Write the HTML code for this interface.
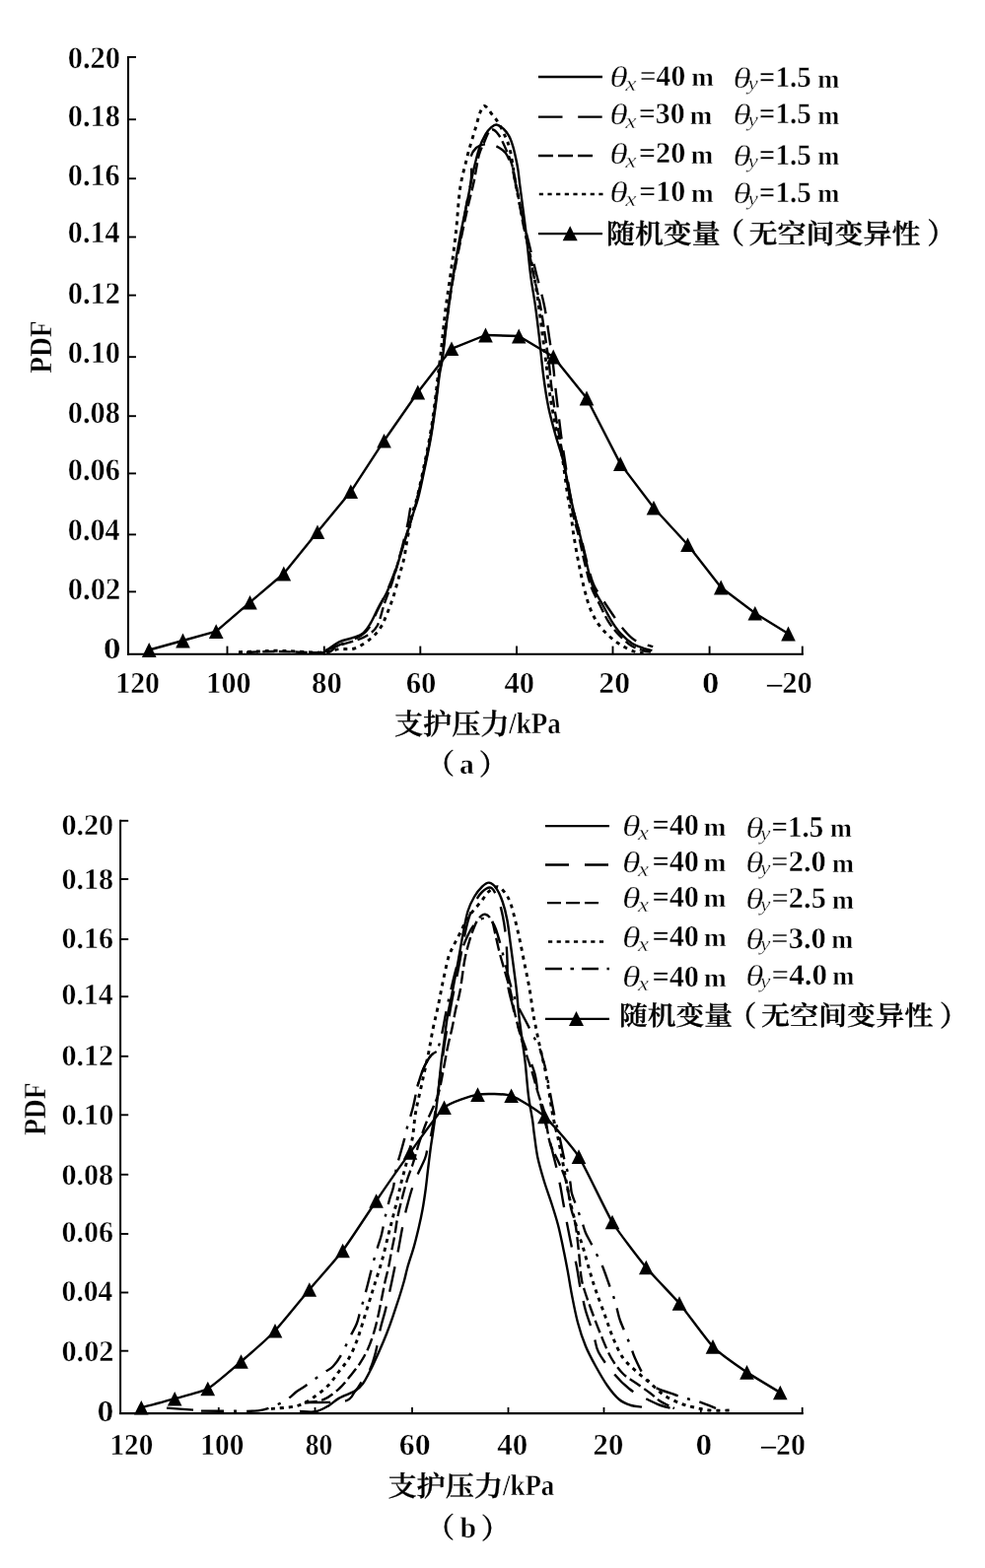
<!DOCTYPE html>
<html lang="zh"><head><meta charset="utf-8"><title>PDF of support pressure</title>
<style>
html,body{margin:0;padding:0;background:#fff;}
body{width:999px;height:1591px;overflow:hidden;}
svg{display:block;font-family:'Liberation Serif', 'Noto Serif CJK SC', serif;}
svg text{fill:#000;stroke:#fff;stroke-width:0.42px;text-rendering:geometricPrecision;}
svg text.cj{stroke:#000;stroke-width:0.32px;}
svg text.it{stroke:#fff;stroke-width:0.35px;}
</style></head><body>
<svg width="999" height="1591" viewBox="0 0 999 1591">
<rect width="999" height="1591" fill="#fff"/>
<line x1="130.0" y1="56.9" x2="130.0" y2="664.8" stroke="#000" stroke-width="2.1"/>
<line x1="129.0" y1="663.8" x2="814.8" y2="663.8" stroke="#000" stroke-width="2.1"/>
<line x1="130" y1="57.9" x2="138.0" y2="57.9" stroke="#000" stroke-width="1.9"/>
<line x1="130" y1="121.2" x2="138.0" y2="121.2" stroke="#000" stroke-width="1.9"/>
<line x1="130" y1="181.2" x2="138.0" y2="181.2" stroke="#000" stroke-width="1.9"/>
<line x1="130" y1="240.5" x2="138.0" y2="240.5" stroke="#000" stroke-width="1.9"/>
<line x1="130" y1="299.6" x2="138.0" y2="299.6" stroke="#000" stroke-width="1.9"/>
<line x1="130" y1="362.2" x2="138.0" y2="362.2" stroke="#000" stroke-width="1.9"/>
<line x1="130" y1="422.2" x2="138.0" y2="422.2" stroke="#000" stroke-width="1.9"/>
<line x1="130" y1="480.4" x2="138.0" y2="480.4" stroke="#000" stroke-width="1.9"/>
<line x1="130" y1="542.4" x2="138.0" y2="542.4" stroke="#000" stroke-width="1.9"/>
<line x1="130" y1="600.4" x2="138.0" y2="600.4" stroke="#000" stroke-width="1.9"/>
<line x1="230.5" y1="655.6" x2="230.5" y2="664.3" stroke="#000" stroke-width="1.9"/>
<line x1="328.8" y1="655.6" x2="328.8" y2="664.3" stroke="#000" stroke-width="1.9"/>
<line x1="426.3" y1="655.6" x2="426.3" y2="664.3" stroke="#000" stroke-width="1.9"/>
<line x1="524" y1="655.6" x2="524" y2="664.3" stroke="#000" stroke-width="1.9"/>
<line x1="621.5" y1="655.6" x2="621.5" y2="664.3" stroke="#000" stroke-width="1.9"/>
<line x1="719.6" y1="655.6" x2="719.6" y2="664.3" stroke="#000" stroke-width="1.9"/>
<line x1="813.8" y1="655.6" x2="813.8" y2="664.3" stroke="#000" stroke-width="1.9"/>
<text x="68.73" y="69.00" font-size="31.33" font-weight="bold" font-style="normal" textLength="53.41" lengthAdjust="spacingAndGlyphs">0.20</text>
<text x="68.77" y="128.00" font-size="31.32" font-weight="bold" font-style="normal" textLength="53.09" lengthAdjust="spacingAndGlyphs">0.18</text>
<text x="68.73" y="188.00" font-size="31.27" font-weight="bold" font-style="normal" textLength="53.06" lengthAdjust="spacingAndGlyphs">0.16</text>
<text x="68.86" y="246.00" font-size="31.34" font-weight="bold" font-style="normal" textLength="52.57" lengthAdjust="spacingAndGlyphs">0.14</text>
<text x="68.67" y="308.00" font-size="31.43" font-weight="bold" font-style="normal" textLength="53.43" lengthAdjust="spacingAndGlyphs">0.12</text>
<text x="68.79" y="368.00" font-size="31.21" font-weight="bold" font-style="normal" textLength="53.33" lengthAdjust="spacingAndGlyphs">0.10</text>
<text x="68.78" y="429.00" font-size="31.33" font-weight="bold" font-style="normal" textLength="53.09" lengthAdjust="spacingAndGlyphs">0.08</text>
<text x="68.80" y="487.00" font-size="31.39" font-weight="bold" font-style="normal" textLength="52.98" lengthAdjust="spacingAndGlyphs">0.06</text>
<text x="68.86" y="548.00" font-size="31.37" font-weight="bold" font-style="normal" textLength="52.57" lengthAdjust="spacingAndGlyphs">0.04</text>
<text x="68.74" y="608.00" font-size="31.36" font-weight="bold" font-style="normal" textLength="53.43" lengthAdjust="spacingAndGlyphs">0.02</text>
<text x="104.86" y="668.00" font-size="30.46" font-weight="bold" font-style="normal" textLength="17.89" lengthAdjust="spacingAndGlyphs">0</text>
<text x="117.26" y="703.00" font-size="30.42" font-weight="bold" font-style="normal" textLength="44.64" lengthAdjust="spacingAndGlyphs">120</text>
<text x="209.37" y="703.00" font-size="30.49" font-weight="bold" font-style="normal" textLength="45.08" lengthAdjust="spacingAndGlyphs">100</text>
<text x="316.13" y="703.00" font-size="30.59" font-weight="bold" font-style="normal" textLength="30.82" lengthAdjust="spacingAndGlyphs">80</text>
<text x="411.73" y="703.00" font-size="30.55" font-weight="bold" font-style="normal" textLength="30.76" lengthAdjust="spacingAndGlyphs">60</text>
<text x="511.42" y="703.00" font-size="30.58" font-weight="bold" font-style="normal" textLength="30.54" lengthAdjust="spacingAndGlyphs">40</text>
<text x="607.33" y="703.00" font-size="30.42" font-weight="bold" font-style="normal" textLength="31.68" lengthAdjust="spacingAndGlyphs">20</text>
<text x="711.96" y="703.00" font-size="30.61" font-weight="bold" font-style="normal" textLength="17.42" lengthAdjust="spacingAndGlyphs">0</text>
<text x="778.00" y="703.00" font-size="30.67" font-weight="bold" font-style="normal" textLength="45.82" lengthAdjust="spacingAndGlyphs">–20</text>
<text transform="translate(52.00,378.79) rotate(-90)" font-size="32.03" font-weight="bold" font-style="normal" textLength="53.36" lengthAdjust="spacingAndGlyphs">PDF</text>
<text class="cj" x="399.95" y="745.00" font-size="29.05" font-weight="600" font-style="normal" textLength="116.59" lengthAdjust="spacingAndGlyphs">支护压力</text>
<text x="516.23" y="744.00" font-size="30.44" font-weight="bold" font-style="normal" textLength="52.40" lengthAdjust="spacingAndGlyphs">/kPa</text>
<text class="cj" x="431.91" y="785.00" font-size="28.47" font-weight="600" font-style="normal" textLength="29.13" lengthAdjust="spacingAndGlyphs">（</text>
<text x="466.13" y="785.00" font-size="28.67" font-weight="bold" font-style="normal" textLength="14.82" lengthAdjust="spacingAndGlyphs">a</text>
<text class="cj" x="485.73" y="786.00" font-size="28.76" font-weight="600" font-style="normal" textLength="29.23" lengthAdjust="spacingAndGlyphs">）</text>
<line x1="546" y1="78" x2="611" y2="78" stroke="#000" stroke-width="2.3"/>
<line x1="546" y1="118.7" x2="611.3" y2="118.7" stroke="#000" stroke-width="2.3" stroke-dasharray="24.5 15.7"/>
<line x1="546" y1="158" x2="601" y2="158" stroke="#000" stroke-width="2.3" stroke-dasharray="15 5"/>
<line x1="546.8" y1="197" x2="611.5" y2="197" stroke="#000" stroke-width="2.3" stroke-dasharray="4.2 4.45"/>
<line x1="546" y1="237.2" x2="611" y2="237.2" stroke="#000" stroke-width="2.3"/>
<polygon points="578.2,229.3 585.7,244.3 570.7,244.3" fill="#000"/>
<text class="it" x="618.38" y="88.00" font-size="30.05" font-weight="normal" font-style="italic" textLength="18.63" lengthAdjust="spacingAndGlyphs">θ</text>
<text class="it" x="634.37" y="92.00" font-size="21.89" font-weight="normal" font-style="italic" textLength="11.26" lengthAdjust="spacingAndGlyphs">x</text>
<text x="648.69" y="87.00" font-size="30.07" font-weight="bold" font-style="normal" textLength="46.53" lengthAdjust="spacingAndGlyphs">=40</text>
<text x="701.31" y="87.00" font-size="26.63" font-weight="bold" font-style="normal" textLength="22.59" lengthAdjust="spacingAndGlyphs">m</text>
<text class="it" x="743.45" y="89.00" font-size="29.74" font-weight="normal" font-style="italic" textLength="18.34" lengthAdjust="spacingAndGlyphs">θ</text>
<text class="it" x="758.47" y="91.00" font-size="20.30" font-weight="normal" font-style="italic" textLength="10.39" lengthAdjust="spacingAndGlyphs">y</text>
<text x="769.85" y="88.00" font-size="29.79" font-weight="bold" font-style="normal" textLength="53.11" lengthAdjust="spacingAndGlyphs">=1.5</text>
<text x="829.30" y="89.00" font-size="26.66" font-weight="bold" font-style="normal" textLength="22.16" lengthAdjust="spacingAndGlyphs">m</text>
<text class="it" x="618.38" y="126.00" font-size="30.05" font-weight="normal" font-style="italic" textLength="18.63" lengthAdjust="spacingAndGlyphs">θ</text>
<text class="it" x="634.37" y="130.00" font-size="21.89" font-weight="normal" font-style="italic" textLength="11.26" lengthAdjust="spacingAndGlyphs">x</text>
<text x="647.75" y="125.00" font-size="29.98" font-weight="bold" font-style="normal" textLength="46.92" lengthAdjust="spacingAndGlyphs">=30</text>
<text x="699.75" y="126.00" font-size="26.75" font-weight="bold" font-style="normal" textLength="22.45" lengthAdjust="spacingAndGlyphs">m</text>
<text class="it" x="743.45" y="126.00" font-size="29.74" font-weight="normal" font-style="italic" textLength="18.34" lengthAdjust="spacingAndGlyphs">θ</text>
<text class="it" x="758.47" y="128.00" font-size="20.30" font-weight="normal" font-style="italic" textLength="10.39" lengthAdjust="spacingAndGlyphs">y</text>
<text x="769.85" y="125.00" font-size="29.79" font-weight="bold" font-style="normal" textLength="53.11" lengthAdjust="spacingAndGlyphs">=1.5</text>
<text x="829.30" y="126.00" font-size="26.66" font-weight="bold" font-style="normal" textLength="22.16" lengthAdjust="spacingAndGlyphs">m</text>
<text class="it" x="618.38" y="166.00" font-size="30.05" font-weight="normal" font-style="italic" textLength="18.63" lengthAdjust="spacingAndGlyphs">θ</text>
<text class="it" x="634.37" y="170.00" font-size="21.89" font-weight="normal" font-style="italic" textLength="11.26" lengthAdjust="spacingAndGlyphs">x</text>
<text x="647.70" y="165.00" font-size="29.97" font-weight="bold" font-style="normal" textLength="47.61" lengthAdjust="spacingAndGlyphs">=20</text>
<text x="700.75" y="166.00" font-size="26.75" font-weight="bold" font-style="normal" textLength="22.45" lengthAdjust="spacingAndGlyphs">m</text>
<text class="it" x="743.45" y="168.00" font-size="29.74" font-weight="normal" font-style="italic" textLength="18.34" lengthAdjust="spacingAndGlyphs">θ</text>
<text class="it" x="758.47" y="170.00" font-size="20.30" font-weight="normal" font-style="italic" textLength="10.39" lengthAdjust="spacingAndGlyphs">y</text>
<text x="769.85" y="167.00" font-size="29.79" font-weight="bold" font-style="normal" textLength="53.11" lengthAdjust="spacingAndGlyphs">=1.5</text>
<text x="829.30" y="167.00" font-size="26.66" font-weight="bold" font-style="normal" textLength="22.16" lengthAdjust="spacingAndGlyphs">m</text>
<text class="it" x="618.38" y="205.00" font-size="30.05" font-weight="normal" font-style="italic" textLength="18.63" lengthAdjust="spacingAndGlyphs">θ</text>
<text class="it" x="634.37" y="209.00" font-size="21.89" font-weight="normal" font-style="italic" textLength="11.26" lengthAdjust="spacingAndGlyphs">x</text>
<text x="648.23" y="204.00" font-size="30.00" font-weight="bold" font-style="normal" textLength="47.17" lengthAdjust="spacingAndGlyphs">=10</text>
<text x="701.00" y="205.00" font-size="26.63" font-weight="bold" font-style="normal" textLength="22.67" lengthAdjust="spacingAndGlyphs">m</text>
<text class="it" x="743.45" y="206.00" font-size="29.74" font-weight="normal" font-style="italic" textLength="18.34" lengthAdjust="spacingAndGlyphs">θ</text>
<text class="it" x="758.47" y="208.00" font-size="20.30" font-weight="normal" font-style="italic" textLength="10.39" lengthAdjust="spacingAndGlyphs">y</text>
<text x="769.85" y="205.00" font-size="29.79" font-weight="bold" font-style="normal" textLength="53.11" lengthAdjust="spacingAndGlyphs">=1.5</text>
<text x="829.30" y="205.00" font-size="26.66" font-weight="bold" font-style="normal" textLength="22.16" lengthAdjust="spacingAndGlyphs">m</text>
<text class="cj" x="615.02" y="247.00" font-size="27.55" font-weight="600" font-style="normal" textLength="115.60" lengthAdjust="spacingAndGlyphs">随机变量</text>
<text class="cj" x="724.41" y="247.00" font-size="29.13" font-weight="600" font-style="normal" textLength="30.77" lengthAdjust="spacingAndGlyphs">（</text>
<text class="cj" x="759.60" y="247.00" font-size="27.53" font-weight="600" font-style="normal" textLength="174.03" lengthAdjust="spacingAndGlyphs">无空间变异性</text>
<text class="cj" x="940.15" y="247.00" font-size="28.97" font-weight="600" font-style="normal" textLength="29.04" lengthAdjust="spacingAndGlyphs">）</text>
<line x1="122.1" y1="831.8" x2="122.1" y2="1435.1" stroke="#000" stroke-width="2.0"/>
<line x1="121.1" y1="1434.1" x2="814.7" y2="1434.1" stroke="#000" stroke-width="2.05"/>
<line x1="122" y1="832.8" x2="130.2" y2="832.8" stroke="#000" stroke-width="1.9"/>
<line x1="122" y1="892" x2="130.2" y2="892" stroke="#000" stroke-width="1.9"/>
<line x1="122" y1="953" x2="130.2" y2="953" stroke="#000" stroke-width="1.9"/>
<line x1="122" y1="1011.2" x2="130.2" y2="1011.2" stroke="#000" stroke-width="1.9"/>
<line x1="122" y1="1071.8" x2="130.2" y2="1071.8" stroke="#000" stroke-width="1.9"/>
<line x1="122" y1="1131.3" x2="130.2" y2="1131.3" stroke="#000" stroke-width="1.9"/>
<line x1="122" y1="1191.8" x2="130.2" y2="1191.8" stroke="#000" stroke-width="1.9"/>
<line x1="122" y1="1252" x2="130.2" y2="1252" stroke="#000" stroke-width="1.9"/>
<line x1="122" y1="1311.5" x2="130.2" y2="1311.5" stroke="#000" stroke-width="1.9"/>
<line x1="122" y1="1370.7" x2="130.2" y2="1370.7" stroke="#000" stroke-width="1.9"/>
<line x1="221.8" y1="1428" x2="221.8" y2="1434.5" stroke="#000" stroke-width="1.8"/>
<line x1="319.5" y1="1428" x2="319.5" y2="1434.5" stroke="#000" stroke-width="1.8"/>
<line x1="418" y1="1428" x2="418" y2="1434.5" stroke="#000" stroke-width="1.8"/>
<line x1="515.5" y1="1428" x2="515.5" y2="1434.5" stroke="#000" stroke-width="1.8"/>
<line x1="612.5" y1="1428" x2="612.5" y2="1434.5" stroke="#000" stroke-width="1.8"/>
<line x1="710.8" y1="1428" x2="710.8" y2="1434.5" stroke="#000" stroke-width="1.8"/>
<line x1="813.7" y1="1428" x2="813.7" y2="1434.5" stroke="#000" stroke-width="1.8"/>
<text x="62.38" y="847.00" font-size="30.19" font-weight="bold" font-style="normal" textLength="52.83" lengthAdjust="spacingAndGlyphs">0.20</text>
<text x="62.40" y="902.00" font-size="30.16" font-weight="bold" font-style="normal" textLength="52.72" lengthAdjust="spacingAndGlyphs">0.18</text>
<text x="62.43" y="962.00" font-size="30.14" font-weight="bold" font-style="normal" textLength="52.50" lengthAdjust="spacingAndGlyphs">0.16</text>
<text x="62.53" y="1019.00" font-size="30.27" font-weight="bold" font-style="normal" textLength="52.03" lengthAdjust="spacingAndGlyphs">0.14</text>
<text x="62.40" y="1081.00" font-size="30.17" font-weight="bold" font-style="normal" textLength="52.80" lengthAdjust="spacingAndGlyphs">0.12</text>
<text x="62.44" y="1141.00" font-size="30.19" font-weight="bold" font-style="normal" textLength="52.77" lengthAdjust="spacingAndGlyphs">0.10</text>
<text x="62.43" y="1202.00" font-size="30.19" font-weight="bold" font-style="normal" textLength="52.71" lengthAdjust="spacingAndGlyphs">0.08</text>
<text x="62.48" y="1260.00" font-size="30.14" font-weight="bold" font-style="normal" textLength="52.48" lengthAdjust="spacingAndGlyphs">0.06</text>
<text x="62.59" y="1320.00" font-size="30.12" font-weight="bold" font-style="normal" textLength="51.87" lengthAdjust="spacingAndGlyphs">0.04</text>
<text x="62.42" y="1381.00" font-size="30.11" font-weight="bold" font-style="normal" textLength="53.03" lengthAdjust="spacingAndGlyphs">0.02</text>
<text x="98.53" y="1442.00" font-size="30.61" font-weight="bold" font-style="normal" textLength="16.87" lengthAdjust="spacingAndGlyphs">0</text>
<text x="111.43" y="1476.00" font-size="30.40" font-weight="bold" font-style="normal" textLength="43.85" lengthAdjust="spacingAndGlyphs">120</text>
<text x="203.37" y="1476.00" font-size="30.44" font-weight="bold" font-style="normal" textLength="44.03" lengthAdjust="spacingAndGlyphs">100</text>
<text x="309.83" y="1476.00" font-size="30.41" font-weight="bold" font-style="normal" textLength="27.51" lengthAdjust="spacingAndGlyphs">80</text>
<text x="404.75" y="1476.00" font-size="30.35" font-weight="bold" font-style="normal" textLength="31.79" lengthAdjust="spacingAndGlyphs">60</text>
<text x="504.33" y="1476.00" font-size="30.56" font-weight="bold" font-style="normal" textLength="30.97" lengthAdjust="spacingAndGlyphs">40</text>
<text x="601.64" y="1476.00" font-size="30.36" font-weight="bold" font-style="normal" textLength="30.75" lengthAdjust="spacingAndGlyphs">20</text>
<text x="705.62" y="1476.00" font-size="30.60" font-weight="bold" font-style="normal" textLength="16.67" lengthAdjust="spacingAndGlyphs">0</text>
<text x="772.00" y="1476.00" font-size="30.41" font-weight="bold" font-style="normal" textLength="44.85" lengthAdjust="spacingAndGlyphs">–20</text>
<text transform="translate(46.00,1152.11) rotate(-90)" font-size="31.95" font-weight="bold" font-style="normal" textLength="53.59" lengthAdjust="spacingAndGlyphs">PDF</text>
<text class="cj" x="393.46" y="1518.00" font-size="28.48" font-weight="600" font-style="normal" textLength="116.60" lengthAdjust="spacingAndGlyphs">支护压力</text>
<text x="509.98" y="1517.00" font-size="30.11" font-weight="bold" font-style="normal" textLength="52.34" lengthAdjust="spacingAndGlyphs">/kPa</text>
<text class="cj" x="431.91" y="1560.00" font-size="28.47" font-weight="600" font-style="normal" textLength="29.13" lengthAdjust="spacingAndGlyphs">（</text>
<text x="466.41" y="1560.00" font-size="29.69" font-weight="bold" font-style="normal" textLength="16.64" lengthAdjust="spacingAndGlyphs">b</text>
<text class="cj" x="487.65" y="1561.00" font-size="28.56" font-weight="600" font-style="normal" textLength="29.47" lengthAdjust="spacingAndGlyphs">）</text>
<line x1="553" y1="838.2" x2="618" y2="838.2" stroke="#000" stroke-width="2.3"/>
<line x1="553" y1="877.5" x2="618" y2="877.5" stroke="#000" stroke-width="2.3" stroke-dasharray="24 16"/>
<line x1="555" y1="916.2" x2="607" y2="916.2" stroke="#000" stroke-width="2.3" stroke-dasharray="14 5"/>
<line x1="556" y1="955.5" x2="614" y2="955.5" stroke="#000" stroke-width="2.3" stroke-dasharray="4.2 4.45"/>
<line x1="553" y1="983" x2="618" y2="983" stroke="#000" stroke-width="2.3" stroke-dasharray="17 8.5 3.5 8"/>
<line x1="553" y1="1033.8" x2="618" y2="1033.8" stroke="#000" stroke-width="2.3"/>
<polygon points="584.5,1026.0 592.0,1041.0 577.0,1041.0" fill="#000"/>
<text class="it" x="631.00" y="848.00" font-size="29.96" font-weight="normal" font-style="italic" textLength="18.63" lengthAdjust="spacingAndGlyphs">θ</text>
<text class="it" x="647.04" y="852.00" font-size="21.90" font-weight="normal" font-style="italic" textLength="11.10" lengthAdjust="spacingAndGlyphs">x</text>
<text x="661.42" y="847.00" font-size="30.47" font-weight="bold" font-style="normal" textLength="47.61" lengthAdjust="spacingAndGlyphs">=40</text>
<text x="713.88" y="848.00" font-size="26.66" font-weight="bold" font-style="normal" textLength="22.66" lengthAdjust="spacingAndGlyphs">m</text>
<text class="it" x="756.15" y="850.00" font-size="29.85" font-weight="normal" font-style="italic" textLength="18.25" lengthAdjust="spacingAndGlyphs">θ</text>
<text class="it" x="770.92" y="852.00" font-size="20.28" font-weight="normal" font-style="italic" textLength="10.36" lengthAdjust="spacingAndGlyphs">y</text>
<text x="782.56" y="849.00" font-size="30.40" font-weight="bold" font-style="normal" textLength="52.79" lengthAdjust="spacingAndGlyphs">=1.5</text>
<text x="842.00" y="849.00" font-size="26.73" font-weight="bold" font-style="normal" textLength="21.92" lengthAdjust="spacingAndGlyphs">m</text>
<text class="it" x="631.00" y="885.00" font-size="29.96" font-weight="normal" font-style="italic" textLength="18.63" lengthAdjust="spacingAndGlyphs">θ</text>
<text class="it" x="647.04" y="889.00" font-size="21.90" font-weight="normal" font-style="italic" textLength="11.10" lengthAdjust="spacingAndGlyphs">x</text>
<text x="661.42" y="884.00" font-size="30.47" font-weight="bold" font-style="normal" textLength="47.61" lengthAdjust="spacingAndGlyphs">=40</text>
<text x="713.88" y="884.00" font-size="26.66" font-weight="bold" font-style="normal" textLength="22.66" lengthAdjust="spacingAndGlyphs">m</text>
<text class="it" x="756.15" y="885.00" font-size="29.85" font-weight="normal" font-style="italic" textLength="18.25" lengthAdjust="spacingAndGlyphs">θ</text>
<text class="it" x="770.92" y="887.00" font-size="20.28" font-weight="normal" font-style="italic" textLength="10.36" lengthAdjust="spacingAndGlyphs">y</text>
<text x="782.29" y="884.00" font-size="30.18" font-weight="bold" font-style="normal" textLength="55.58" lengthAdjust="spacingAndGlyphs">=2.0</text>
<text x="844.00" y="885.00" font-size="26.73" font-weight="bold" font-style="normal" textLength="21.92" lengthAdjust="spacingAndGlyphs">m</text>
<text class="it" x="631.00" y="921.00" font-size="29.96" font-weight="normal" font-style="italic" textLength="18.63" lengthAdjust="spacingAndGlyphs">θ</text>
<text class="it" x="647.04" y="925.00" font-size="21.90" font-weight="normal" font-style="italic" textLength="11.10" lengthAdjust="spacingAndGlyphs">x</text>
<text x="661.42" y="920.00" font-size="30.47" font-weight="bold" font-style="normal" textLength="47.61" lengthAdjust="spacingAndGlyphs">=40</text>
<text x="713.88" y="920.00" font-size="26.66" font-weight="bold" font-style="normal" textLength="22.66" lengthAdjust="spacingAndGlyphs">m</text>
<text class="it" x="756.15" y="922.00" font-size="29.85" font-weight="normal" font-style="italic" textLength="18.25" lengthAdjust="spacingAndGlyphs">θ</text>
<text class="it" x="770.92" y="924.00" font-size="20.28" font-weight="normal" font-style="italic" textLength="10.36" lengthAdjust="spacingAndGlyphs">y</text>
<text x="782.44" y="921.00" font-size="30.17" font-weight="bold" font-style="normal" textLength="55.45" lengthAdjust="spacingAndGlyphs">=2.5</text>
<text x="844.00" y="922.00" font-size="26.73" font-weight="bold" font-style="normal" textLength="21.92" lengthAdjust="spacingAndGlyphs">m</text>
<text class="it" x="631.00" y="961.00" font-size="29.96" font-weight="normal" font-style="italic" textLength="18.63" lengthAdjust="spacingAndGlyphs">θ</text>
<text class="it" x="647.04" y="965.00" font-size="21.90" font-weight="normal" font-style="italic" textLength="11.10" lengthAdjust="spacingAndGlyphs">x</text>
<text x="661.42" y="960.00" font-size="30.47" font-weight="bold" font-style="normal" textLength="47.61" lengthAdjust="spacingAndGlyphs">=40</text>
<text x="714.13" y="960.00" font-size="26.66" font-weight="bold" font-style="normal" textLength="22.71" lengthAdjust="spacingAndGlyphs">m</text>
<text class="it" x="756.15" y="963.00" font-size="29.85" font-weight="normal" font-style="italic" textLength="18.25" lengthAdjust="spacingAndGlyphs">θ</text>
<text class="it" x="770.92" y="964.00" font-size="20.28" font-weight="normal" font-style="italic" textLength="10.36" lengthAdjust="spacingAndGlyphs">y</text>
<text x="782.26" y="962.00" font-size="30.17" font-weight="bold" font-style="normal" textLength="55.68" lengthAdjust="spacingAndGlyphs">=3.0</text>
<text x="843.17" y="962.00" font-size="26.69" font-weight="bold" font-style="normal" textLength="22.00" lengthAdjust="spacingAndGlyphs">m</text>
<text class="it" x="631.00" y="1001.00" font-size="29.96" font-weight="normal" font-style="italic" textLength="18.63" lengthAdjust="spacingAndGlyphs">θ</text>
<text class="it" x="647.04" y="1005.00" font-size="21.90" font-weight="normal" font-style="italic" textLength="11.10" lengthAdjust="spacingAndGlyphs">x</text>
<text x="661.42" y="1001.00" font-size="30.47" font-weight="bold" font-style="normal" textLength="47.61" lengthAdjust="spacingAndGlyphs">=40</text>
<text x="714.13" y="1001.00" font-size="26.66" font-weight="bold" font-style="normal" textLength="22.71" lengthAdjust="spacingAndGlyphs">m</text>
<text class="it" x="756.15" y="1000.00" font-size="29.85" font-weight="normal" font-style="italic" textLength="18.25" lengthAdjust="spacingAndGlyphs">θ</text>
<text class="it" x="770.92" y="1002.00" font-size="20.28" font-weight="normal" font-style="italic" textLength="10.36" lengthAdjust="spacingAndGlyphs">y</text>
<text x="782.42" y="999.00" font-size="30.08" font-weight="bold" font-style="normal" textLength="56.68" lengthAdjust="spacingAndGlyphs">=4.0</text>
<text x="844.30" y="999.00" font-size="26.66" font-weight="bold" font-style="normal" textLength="22.16" lengthAdjust="spacingAndGlyphs">m</text>
<text class="cj" x="628.03" y="1040.00" font-size="26.85" font-weight="600" font-style="normal" textLength="115.02" lengthAdjust="spacingAndGlyphs">随机变量</text>
<text class="cj" x="737.74" y="1041.00" font-size="28.54" font-weight="600" font-style="normal" textLength="29.70" lengthAdjust="spacingAndGlyphs">（</text>
<text class="cj" x="771.93" y="1040.00" font-size="26.87" font-weight="600" font-style="normal" textLength="174.33" lengthAdjust="spacingAndGlyphs">无空间变异性</text>
<text class="cj" x="952.65" y="1041.00" font-size="28.56" font-weight="600" font-style="normal" textLength="29.47" lengthAdjust="spacingAndGlyphs">）</text>
<path d="M242.0,661.6 C245.3,661.5 255.7,661.2 262.0,661.0 C268.3,660.8 273.7,660.2 280.0,660.2 C286.3,660.2 292.0,660.7 300.0,661.0 C308.0,661.3 320.7,662.4 328.0,662.0 C335.3,661.6 338.7,659.3 344.0,658.6 C349.3,657.9 354.7,659.6 360.0,657.8 C365.3,656.0 371.7,651.5 376.0,648.0 C380.3,644.5 383.1,641.0 385.8,637.0 C388.5,633.0 389.9,629.1 392.0,624.0 C394.1,618.9 396.4,613.2 398.6,606.5 C400.8,599.8 403.1,590.7 405.0,584.0 C406.9,577.3 408.5,572.4 409.8,566.5 C411.1,560.6 411.4,556.2 412.8,548.8 C414.2,541.4 416.3,529.3 418.0,522.0 C419.7,514.7 421.1,512.7 423.0,505.0 C424.9,497.3 427.3,486.2 429.4,476.0 C431.5,465.8 433.9,454.7 435.8,444.0 C437.7,433.3 439.2,422.7 440.6,412.0 C442.0,401.3 443.4,388.2 444.4,380.0 C445.4,371.8 445.9,368.0 446.5,363.0 C447.1,358.0 447.1,358.3 448.0,350.0 C448.9,341.7 450.5,325.0 452.0,313.0 C453.5,301.0 455.2,291.0 457.0,278.0 C458.8,265.0 460.9,249.3 462.5,235.0 C464.1,220.7 464.8,204.0 466.5,192.0 C468.2,180.0 471.2,170.2 472.9,163.0 C474.6,155.8 475.1,154.3 476.6,149.0 C478.1,143.7 480.2,137.0 482.0,131.0 C483.8,125.0 485.7,116.9 487.4,113.0 C489.1,109.1 489.9,106.8 492.0,107.6 C494.1,108.3 497.8,114.7 500.0,117.5 C502.2,120.3 503.4,121.1 505.5,124.7 C507.6,128.3 510.8,134.6 512.7,139.0 C514.6,143.4 515.8,146.3 517.0,151.0 C518.2,155.7 519.1,161.3 520.0,167.0 C520.9,172.7 521.1,176.8 522.6,185.0 C524.1,193.2 527.1,206.8 529.0,216.0 C530.9,225.2 531.8,229.7 533.8,240.0 C535.8,250.3 539.2,266.3 541.3,278.0 C543.4,289.7 544.9,299.3 546.4,310.0 C547.9,320.7 549.3,332.7 550.5,342.0 C551.7,351.3 552.6,358.0 553.6,366.0 C554.6,374.0 555.3,382.3 556.3,390.0 C557.3,397.7 558.1,403.7 559.6,412.0 C561.1,420.3 563.3,431.7 565.0,440.0 C566.7,448.3 568.3,452.0 570.0,462.0 C571.7,472.0 573.8,490.3 575.3,500.0 C576.8,509.7 577.7,512.7 578.8,520.0 C579.9,527.3 580.6,535.5 582.0,544.0 C583.4,552.5 585.1,562.5 586.9,571.3 C588.6,580.1 590.6,589.5 592.5,597.0 C594.4,604.5 595.8,610.2 598.0,616.0 C600.2,621.8 602.8,627.2 606.0,632.0 C609.2,636.8 613.3,641.2 617.3,645.0 C621.3,648.8 625.7,651.9 630.0,654.6 C634.3,657.3 639.2,659.7 643.0,661.0 C646.8,662.3 651.0,662.3 652.6,662.6" fill="none" stroke="#000" stroke-width="2.9" stroke-linejoin="round" stroke-dasharray="4 4.9"/>
<path d="M250.0,662.0 C255.0,661.8 266.7,661.0 280.0,661.0 C293.3,661.0 319.8,662.8 330.0,662.0 C340.2,661.2 336.0,658.0 341.0,656.0 C346.0,654.0 354.8,651.8 360.0,650.0 C365.2,648.2 368.2,647.5 372.0,645.0 C375.8,642.5 379.6,640.5 382.6,635.0 C385.6,629.5 387.4,619.5 390.0,612.0 C392.6,604.5 395.3,598.2 398.0,590.0 C400.7,581.8 403.5,571.3 406.0,563.0 C408.5,554.7 410.9,546.8 413.0,540.0 C415.1,533.2 416.8,527.8 418.5,522.0 C420.2,516.2 421.6,512.7 423.5,505.0 C425.4,497.3 427.8,486.2 430.0,476.0 C432.2,465.8 434.6,454.7 436.5,444.0 C438.4,433.3 439.8,422.7 441.3,412.0 C442.8,401.3 444.1,388.2 445.3,380.0 C446.5,371.8 447.1,372.0 448.4,363.0 C449.7,354.0 451.2,338.8 453.0,326.0 C454.8,313.2 456.7,299.5 459.0,286.0 C461.3,272.5 464.4,257.7 467.0,245.0 C469.6,232.3 472.2,220.0 474.5,210.0 C476.8,200.0 478.6,193.7 480.5,185.0 C482.4,176.3 483.9,164.8 485.6,158.0 C487.4,151.2 489.4,148.4 491.0,144.5 C492.6,140.6 494.0,136.8 495.5,134.6 C497.0,132.4 498.3,131.2 500.0,131.5 C501.7,131.8 503.8,134.2 505.5,136.4 C507.2,138.6 508.6,141.7 510.0,144.5 C511.4,147.3 512.4,149.6 514.0,153.5 C515.6,157.4 517.8,161.9 519.5,168.0 C521.2,174.1 522.3,181.0 524.0,190.0 C525.7,199.0 527.8,212.8 529.5,222.0 C531.2,231.2 532.6,235.7 534.5,245.0 C536.4,254.3 538.8,267.2 541.0,278.0 C543.2,288.8 546.0,299.3 548.0,310.0 C550.0,320.7 551.6,332.7 553.0,342.0 C554.4,351.3 555.5,358.0 556.5,366.0 C557.5,374.0 558.1,382.3 559.0,390.0 C559.9,397.7 560.7,403.5 562.0,412.0 C563.3,420.5 565.3,431.7 567.0,441.0 C568.7,450.3 570.3,458.2 572.0,468.0 C573.7,477.8 575.2,490.1 577.0,500.0 C578.8,509.9 580.8,520.1 582.5,527.4 C584.2,534.7 585.2,536.7 587.0,544.0 C588.8,551.3 590.9,562.8 593.0,571.3 C595.1,579.8 597.0,588.3 599.5,595.3 C602.0,602.2 605.1,607.1 608.0,613.0 C610.9,618.9 613.8,625.5 617.0,630.6 C620.2,635.7 623.2,639.3 627.0,643.4 C630.8,647.5 635.8,652.2 640.0,655.0 C644.2,657.8 648.7,658.9 652.0,660.0 C655.3,661.1 658.7,661.2 660.0,661.5" fill="none" stroke="#000" stroke-width="2.4" stroke-linejoin="round" stroke-dasharray="12 4.5"/>
<path d="M330.0,660.0 C333.3,658.7 344.0,654.5 350.0,652.0 C356.0,649.5 361.8,647.7 366.0,645.0 C370.2,642.3 372.2,640.3 375.0,636.0 C377.8,631.7 380.3,624.5 383.0,619.0 C385.7,613.5 388.3,608.8 391.0,603.0 C393.7,597.2 396.5,590.8 399.0,584.0 C401.5,577.2 403.9,569.3 406.0,562.0 C408.1,554.7 410.2,545.5 411.5,540.0 C412.8,534.5 413.1,533.5 414.0,529.0 C414.9,524.5 415.5,517.0 417.0,513.0 C418.5,509.0 420.8,511.2 423.0,505.0 C425.2,498.8 427.8,486.2 430.0,476.0 C432.2,465.8 434.6,454.7 436.5,444.0 C438.4,433.3 439.8,422.7 441.3,412.0 C442.8,401.3 444.1,388.2 445.3,380.0 C446.5,371.8 447.1,372.0 448.4,363.0 C449.6,354.0 451.1,338.8 452.8,326.0 C454.5,313.2 456.1,300.3 458.5,286.0 C460.9,271.7 465.0,253.5 467.5,240.0 C470.0,226.5 471.9,214.2 473.6,205.0 C475.3,195.8 476.7,190.5 477.5,185.0 C478.3,179.5 478.2,176.2 478.2,172.0 C478.1,167.8 476.4,163.7 477.2,160.0 C478.0,156.3 480.5,152.3 483.0,150.0 C485.5,147.7 489.2,146.8 492.0,146.3 C494.8,145.8 496.8,145.9 499.6,146.8 C502.4,147.7 506.5,149.9 509.0,151.8 C511.5,153.7 512.6,154.1 514.5,158.0 C516.4,161.9 518.7,168.0 520.5,175.0 C522.3,182.0 523.8,191.7 525.5,200.0 C527.2,208.3 529.2,217.5 531.0,225.0 C532.8,232.5 533.8,236.2 536.0,245.0 C538.2,253.8 541.3,267.2 544.0,278.0 C546.7,288.8 549.8,299.3 552.0,310.0 C554.2,320.7 555.6,332.7 557.0,342.0 C558.4,351.3 559.5,358.0 560.5,366.0 C561.5,374.0 562.2,382.3 563.0,390.0 C563.8,397.7 564.5,403.5 565.5,412.0 C566.5,420.5 567.8,431.7 569.0,441.0 C570.2,450.3 571.5,458.2 573.0,468.0 C574.5,477.8 576.2,490.1 578.0,500.0 C579.8,509.9 582.2,520.1 584.0,527.4 C585.8,534.7 587.1,536.7 589.0,544.0 C590.9,551.3 593.3,563.1 595.5,571.3 C597.7,579.5 599.4,586.9 602.0,593.0 C604.6,599.1 607.8,603.0 611.0,608.0 C614.2,613.0 617.7,618.2 621.0,623.0 C624.3,627.8 627.2,632.6 631.0,637.0 C634.8,641.4 638.5,646.3 643.8,649.5 C649.0,652.7 659.1,655.1 662.2,656.2" fill="none" stroke="#000" stroke-width="2.4" stroke-linejoin="round" stroke-dasharray="20 12"/>
<path d="M328.0,662.3 C330.7,660.5 339.2,653.9 344.0,651.4 C348.8,648.9 353.0,648.9 357.0,647.4 C361.0,645.9 364.8,645.2 368.0,642.6 C371.2,640.0 373.3,636.4 376.0,632.0 C378.7,627.6 381.3,621.0 384.0,616.0 C386.7,611.0 389.3,607.3 392.0,601.7 C394.7,596.1 397.3,590.0 400.0,582.5 C402.7,575.0 405.6,564.6 408.0,556.9 C410.4,549.1 412.7,542.1 414.6,536.0 C416.5,529.9 417.8,525.2 419.4,520.0 C421.0,514.8 422.3,512.3 424.2,505.0 C426.1,497.7 428.5,486.2 430.6,476.0 C432.7,465.8 435.1,454.7 437.0,444.0 C438.9,433.3 440.3,422.7 441.8,412.0 C443.3,401.3 444.6,388.2 445.8,380.0 C447.0,371.8 447.7,372.0 448.9,363.0 C450.1,354.0 451.6,338.8 453.2,326.0 C454.8,313.2 456.4,300.3 458.6,286.0 C460.8,271.7 464.0,253.8 466.6,240.0 C469.2,226.2 471.9,214.2 474.2,203.0 C476.5,191.8 478.2,181.8 480.2,173.0 C482.2,164.2 484.0,156.6 486.0,150.5 C488.0,144.4 490.4,139.9 492.4,136.4 C494.4,132.9 496.1,131.1 498.0,129.4 C499.9,127.8 501.4,126.2 503.5,126.5 C505.6,126.8 508.8,129.1 510.9,131.0 C513.0,132.9 514.8,135.5 516.3,138.2 C517.8,140.9 518.8,144.0 519.9,147.3 C521.0,150.6 521.7,153.9 522.6,158.0 C523.5,162.1 524.5,166.4 525.3,171.6 C526.1,176.8 526.1,178.9 527.4,189.0 C528.7,199.1 531.2,217.2 533.0,232.0 C534.8,246.8 536.4,265.0 538.0,278.0 C539.6,291.0 541.4,299.3 542.9,310.0 C544.4,320.7 545.5,330.3 546.9,342.0 C548.2,353.7 549.5,368.3 551.0,380.0 C552.5,391.7 554.0,401.8 556.0,412.0 C558.0,422.2 560.8,431.7 563.3,441.0 C565.8,450.3 568.9,458.2 571.3,468.0 C573.7,477.8 575.6,490.1 577.7,500.0 C579.8,509.9 582.2,520.1 584.0,527.4 C585.8,534.7 586.7,536.7 588.5,544.0 C590.3,551.3 592.8,562.8 594.9,571.3 C597.0,579.8 598.6,588.3 601.3,595.3 C604.0,602.2 607.7,607.1 610.9,613.0 C614.1,618.9 617.3,625.5 620.5,630.6 C623.7,635.7 626.5,639.7 630.0,643.4 C633.5,647.1 637.5,650.6 641.3,653.0 C645.1,655.4 649.2,656.6 652.6,657.8 C656.0,659.0 659.9,659.6 661.4,660.0" fill="none" stroke="#000" stroke-width="2.4" stroke-linejoin="round"/>
<path d="M151.2,659.5 L185.5,650.0 L219.2,640.6 L253.5,611.2 L287.8,582.0 L322.0,539.8 L355.8,498.8 L389.5,447.2 L423.8,398.0 L458.0,353.8 L492.5,340.0 L526.2,341.0 L561.2,362.0 L595.0,404.0 L629.2,470.6 L663.0,515.2 L697.5,552.8 L731.2,596.0 L765.8,622.2 L799.5,643.0" fill="none" stroke="#000" stroke-width="2.4" stroke-linejoin="round"/>
<polygon points="151.2,652.1 158.6,666.9 143.9,666.9" fill="#000"/>
<polygon points="185.5,642.6 192.8,657.4 178.2,657.4" fill="#000"/>
<polygon points="219.2,633.2 226.6,648.0 211.9,648.0" fill="#000"/>
<polygon points="253.5,603.9 260.8,618.6 246.2,618.6" fill="#000"/>
<polygon points="287.8,574.6 295.1,589.4 280.4,589.4" fill="#000"/>
<polygon points="322.0,532.4 329.3,547.1 314.7,547.1" fill="#000"/>
<polygon points="355.8,491.4 363.1,506.1 348.4,506.1" fill="#000"/>
<polygon points="389.5,439.9 396.8,454.6 382.2,454.6" fill="#000"/>
<polygon points="423.8,390.6 431.1,405.4 416.4,405.4" fill="#000"/>
<polygon points="458.0,346.4 465.3,361.1 450.7,361.1" fill="#000"/>
<polygon points="492.5,332.6 499.8,347.4 485.2,347.4" fill="#000"/>
<polygon points="526.2,333.6 533.5,348.4 519.0,348.4" fill="#000"/>
<polygon points="561.2,354.6 568.5,369.4 554.0,369.4" fill="#000"/>
<polygon points="595.0,396.6 602.3,411.4 587.7,411.4" fill="#000"/>
<polygon points="629.2,463.2 636.5,478.0 622.0,478.0" fill="#000"/>
<polygon points="663.0,507.9 670.3,522.6 655.7,522.6" fill="#000"/>
<polygon points="697.5,545.4 704.8,560.1 690.2,560.1" fill="#000"/>
<polygon points="731.2,588.6 738.5,603.4 724.0,603.4" fill="#000"/>
<polygon points="765.8,614.9 773.0,629.6 758.5,629.6" fill="#000"/>
<polygon points="799.5,635.6 806.8,650.4 792.2,650.4" fill="#000"/>
<path d="M275.0,1429.5 C279.3,1429.0 293.8,1428.4 300.8,1426.6 C307.8,1424.8 311.5,1422.1 316.9,1418.6 C322.2,1415.1 328.4,1410.3 332.9,1405.8 C337.4,1401.2 340.5,1395.8 344.0,1391.3 C347.5,1386.8 350.8,1383.5 353.7,1378.5 C356.6,1373.5 359.3,1367.1 361.7,1361.0 C364.1,1354.9 365.9,1348.4 368.0,1341.7 C370.1,1335.0 372.5,1327.2 374.5,1320.8 C376.5,1314.3 377.8,1310.1 380.0,1303.0 C382.2,1295.9 385.4,1286.4 387.7,1278.0 C390.0,1269.6 392.1,1260.0 394.0,1252.5 C395.9,1245.0 397.4,1239.4 399.0,1233.0 C400.6,1226.6 402.4,1219.5 403.7,1214.0 C405.0,1208.5 405.7,1205.0 407.0,1199.7 C408.3,1194.4 409.9,1189.2 411.7,1182.0 C413.5,1174.8 416.3,1165.4 418.0,1156.4 C419.7,1147.4 420.0,1137.6 421.7,1128.0 C423.4,1118.4 425.9,1108.8 428.0,1099.0 C430.1,1089.2 432.6,1078.3 434.5,1069.0 C436.4,1059.7 437.7,1050.8 439.3,1043.0 C440.9,1035.2 442.4,1029.9 444.0,1022.4 C445.6,1014.9 447.1,1006.3 448.8,998.0 C450.6,989.7 452.8,978.7 454.5,972.5 C456.2,966.3 457.3,965.2 459.3,961.0 C461.3,956.8 464.0,952.0 466.5,947.0 C469.0,942.0 472.1,935.0 474.5,931.0 C476.9,927.0 478.6,926.0 481.0,923.0 C483.4,920.0 486.6,916.3 489.0,913.3 C491.4,910.3 493.2,907.1 495.3,905.0 C497.4,902.9 499.8,901.2 501.7,900.4 C503.6,899.6 504.6,899.1 506.5,900.2 C508.4,901.3 511.1,904.3 513.0,907.0 C514.9,909.7 516.1,912.0 517.8,916.5 C519.4,921.0 521.0,927.6 522.6,934.0 C524.2,940.4 525.8,947.5 527.4,955.0 C529.0,962.5 530.6,971.0 532.2,979.0 C533.8,987.0 535.5,994.5 537.0,1003.0 C538.5,1011.5 539.8,1023.0 541.0,1030.0 C542.2,1037.0 543.0,1039.8 544.0,1045.0 C545.0,1050.2 546.2,1056.0 547.3,1061.0 C548.4,1066.0 549.4,1070.2 550.5,1075.0 C551.6,1079.8 552.6,1084.0 553.7,1089.7 C554.8,1095.4 556.0,1102.6 557.0,1109.0 C558.0,1115.4 559.0,1122.2 560.0,1128.0 C561.0,1133.8 562.3,1139.5 563.3,1144.0 C564.3,1148.5 564.9,1149.8 566.0,1155.0 C567.1,1160.2 568.6,1167.5 570.0,1175.0 C571.4,1182.5 573.0,1192.2 574.5,1200.0 C576.0,1207.8 577.2,1214.2 579.0,1222.0 C580.8,1229.8 583.2,1239.5 585.3,1247.0 C587.4,1254.5 589.6,1259.9 591.7,1267.0 C593.8,1274.1 595.9,1282.2 598.0,1289.4 C600.1,1296.6 601.8,1302.2 604.5,1310.0 C607.2,1317.8 611.1,1328.0 614.0,1336.0 C616.9,1344.0 619.0,1351.0 622.0,1358.0 C625.0,1365.0 628.0,1372.3 632.0,1378.0 C636.0,1383.7 641.3,1387.7 646.0,1392.0 C650.7,1396.3 655.3,1400.0 660.0,1404.0 C664.7,1408.0 669.0,1412.7 674.0,1416.0 C679.0,1419.3 685.0,1422.0 690.0,1424.0 C695.0,1426.0 699.0,1426.8 704.0,1428.0 C709.0,1429.2 713.8,1430.5 720.0,1431.0 C726.2,1431.5 737.5,1431.0 741.0,1431.0" fill="none" stroke="#000" stroke-width="2.9" stroke-linejoin="round" stroke-dasharray="4 4.9"/>
<path d="M204.0,1431.6 C210.0,1431.6 230.3,1431.8 240.0,1431.8 C249.7,1431.8 256.2,1432.0 262.0,1431.4 C267.8,1430.8 270.2,1429.9 275.0,1428.0 C279.8,1426.1 286.7,1422.7 291.0,1420.0 C295.3,1417.3 297.6,1414.4 300.8,1412.0 C304.0,1409.6 305.9,1409.0 310.4,1405.8 C314.9,1402.6 323.4,1396.2 328.0,1393.0 C332.6,1389.8 334.8,1389.5 337.7,1386.5 C340.6,1383.5 342.8,1380.4 345.7,1375.3 C348.6,1370.2 352.6,1361.3 355.3,1356.0 C358.0,1350.7 360.1,1347.3 361.7,1343.3 C363.3,1339.3 363.4,1337.6 365.0,1332.0 C366.6,1326.4 369.1,1317.8 371.3,1309.6 C373.5,1301.4 376.1,1290.4 378.0,1283.0 C379.9,1275.6 381.5,1270.5 383.0,1265.4 C384.5,1260.3 385.7,1257.8 387.0,1252.5 C388.3,1247.2 389.7,1239.2 391.0,1233.3 C392.3,1227.4 393.7,1222.1 395.0,1217.3 C396.3,1212.5 397.8,1209.9 399.0,1204.5 C400.2,1199.1 400.8,1190.6 402.0,1185.0 C403.2,1179.4 404.7,1175.6 406.0,1170.8 C407.3,1166.0 409.0,1160.3 410.0,1156.4 C411.0,1152.5 410.6,1152.6 412.0,1147.4 C413.4,1142.2 417.0,1130.6 418.5,1125.0 C420.0,1119.4 420.2,1117.5 421.0,1113.8 C421.8,1110.0 422.1,1106.8 423.3,1102.5 C424.5,1098.2 426.4,1092.2 428.0,1088.0 C429.6,1083.8 431.3,1080.0 433.0,1077.0 C434.7,1074.0 436.4,1071.6 438.0,1070.0 C439.6,1068.4 441.2,1069.3 442.5,1067.3 C443.8,1065.3 444.9,1061.7 446.0,1058.0 C447.1,1054.3 448.0,1049.8 449.0,1045.0 C450.0,1040.2 450.8,1034.8 452.0,1029.0 C453.2,1023.2 454.3,1017.3 456.0,1010.0 C457.7,1002.7 460.0,992.5 462.0,985.0 C464.0,977.5 465.8,971.2 468.0,965.0 C470.2,958.8 472.8,952.5 475.0,948.0 C477.2,943.5 479.0,940.5 481.0,938.0 C483.0,935.5 484.9,934.1 487.0,933.0 C489.1,931.9 491.7,931.2 493.7,931.5 C495.7,931.8 497.4,933.1 499.0,935.0 C500.6,936.9 501.5,938.8 503.0,943.0 C504.5,947.2 506.3,953.8 508.0,960.0 C509.7,966.2 511.3,973.3 513.0,980.0 C514.7,986.7 516.0,993.3 518.0,1000.0 C520.0,1006.7 522.2,1013.6 525.0,1020.0 C527.8,1026.4 530.8,1031.2 534.5,1038.5 C538.2,1045.8 544.6,1058.0 547.3,1064.0 C550.0,1070.0 549.4,1070.8 550.5,1074.5 C551.6,1078.2 552.4,1080.2 553.7,1086.5 C555.0,1092.8 557.0,1103.9 558.5,1112.0 C560.0,1120.1 561.4,1127.7 563.0,1135.0 C564.6,1142.3 566.4,1149.0 568.0,1156.0 C569.6,1163.0 570.8,1170.0 572.5,1177.0 C574.2,1184.0 576.8,1192.5 578.0,1198.0 C579.2,1203.5 578.9,1206.4 579.7,1210.0 C580.5,1213.6 581.3,1214.9 583.0,1219.7 C584.7,1224.5 588.2,1233.8 590.0,1239.0 C591.8,1244.2 592.4,1247.2 594.0,1251.0 C595.6,1254.8 597.1,1256.9 599.7,1262.0 C602.3,1267.1 607.1,1276.6 609.4,1281.4 C611.7,1286.2 612.0,1287.2 613.4,1291.0 C614.8,1294.8 616.4,1299.5 618.0,1304.0 C619.6,1308.5 621.7,1313.8 623.0,1318.0 C624.3,1322.2 625.0,1325.3 626.0,1329.0 C627.0,1332.7 627.3,1335.3 629.0,1340.0 C630.7,1344.7 634.2,1352.5 636.0,1357.0 C637.8,1361.5 638.7,1363.5 640.0,1367.0 C641.3,1370.5 641.8,1373.2 644.0,1378.0 C646.2,1382.8 650.5,1392.0 653.0,1396.0 C655.5,1400.0 657.0,1400.0 659.0,1402.0 C661.0,1404.0 660.8,1405.8 665.0,1408.0 C669.2,1410.2 678.8,1413.2 684.0,1415.0 C689.2,1416.8 692.0,1417.8 696.0,1419.0 C700.0,1420.2 703.0,1420.3 708.0,1422.0 C713.0,1423.7 723.0,1427.8 726.0,1429.0" fill="none" stroke="#000" stroke-width="2.4" stroke-linejoin="round" stroke-dasharray="23 10 3 10"/>
<path d="M308.8,1423.4 C312.0,1422.9 322.1,1422.6 328.0,1420.2 C333.9,1417.8 339.4,1413.0 344.0,1409.0 C348.6,1405.0 351.8,1400.3 355.3,1396.0 C358.8,1391.7 362.1,1387.8 365.0,1383.3 C367.9,1378.8 370.6,1374.3 373.0,1369.0 C375.4,1363.7 377.5,1357.5 379.4,1351.3 C381.3,1345.1 382.9,1337.9 384.2,1332.0 C385.5,1326.1 386.3,1321.3 387.4,1316.0 C388.5,1310.7 389.5,1305.0 390.6,1300.0 C391.7,1295.0 392.9,1291.2 394.0,1286.0 C395.1,1280.8 396.2,1274.2 397.3,1268.6 C398.4,1263.0 399.6,1257.8 400.5,1252.5 C401.4,1247.2 401.8,1242.8 403.0,1236.5 C404.2,1230.2 406.3,1221.6 408.0,1215.0 C409.7,1208.4 411.2,1202.8 413.0,1197.0 C414.8,1191.2 417.0,1186.2 419.0,1180.0 C421.0,1173.8 422.8,1166.7 425.0,1160.0 C427.2,1153.3 429.5,1146.3 432.0,1140.0 C434.5,1133.7 437.7,1127.7 440.0,1122.0 C442.3,1116.3 443.4,1115.5 445.7,1105.8 C448.0,1096.1 451.6,1074.4 453.7,1064.0 C455.8,1053.6 457.1,1049.8 458.5,1043.3 C459.9,1036.8 460.7,1031.2 462.0,1025.0 C463.3,1018.8 464.9,1014.5 466.5,1006.0 C468.1,997.5 469.7,982.5 471.3,974.0 C472.9,965.5 474.4,960.6 476.0,955.0 C477.6,949.4 479.4,944.4 481.0,940.5 C482.6,936.6 483.9,933.8 485.7,931.7 C487.5,929.6 489.9,927.4 492.0,927.7 C494.1,928.0 496.9,930.4 498.5,933.3 C500.1,936.2 500.4,939.5 501.7,945.0 C503.0,950.5 504.8,959.3 506.5,966.0 C508.2,972.7 510.1,978.7 512.0,985.4 C513.9,992.1 516.0,998.6 517.8,1006.0 C519.5,1013.4 520.6,1021.3 522.6,1030.0 C524.6,1038.7 527.2,1048.6 530.0,1058.0 C532.8,1067.4 536.7,1078.0 539.3,1086.5 C541.9,1095.0 543.6,1102.1 545.7,1109.0 C547.8,1115.9 550.4,1121.6 552.0,1128.0 C553.6,1134.4 554.2,1141.7 555.3,1147.4 C556.4,1153.1 556.7,1156.9 558.5,1162.0 C560.3,1167.1 563.4,1172.0 566.0,1178.0 C568.6,1184.0 571.8,1190.1 574.0,1198.0 C576.2,1205.9 577.4,1217.8 579.0,1225.3 C580.6,1232.8 582.4,1235.5 583.7,1243.0 C585.0,1250.5 586.0,1261.2 587.0,1270.0 C588.0,1278.8 588.5,1289.3 589.5,1296.0 C590.5,1302.7 591.2,1304.3 593.0,1310.0 C594.8,1315.7 597.2,1322.3 600.0,1330.0 C602.8,1337.7 606.7,1348.0 610.0,1356.0 C613.3,1364.0 616.3,1371.7 620.0,1378.0 C623.7,1384.3 627.7,1389.7 632.0,1394.0 C636.3,1398.3 641.3,1400.7 646.0,1404.0 C650.7,1407.3 656.0,1411.0 660.0,1414.0 C664.0,1417.0 666.0,1419.5 670.0,1422.0 C674.0,1424.5 681.7,1427.8 684.0,1429.0" fill="none" stroke="#000" stroke-width="2.4" stroke-linejoin="round" stroke-dasharray="13 4.5"/>
<path d="M309.0,1423.0 C315.7,1422.8 340.5,1423.6 349.0,1421.8 C357.5,1420.0 356.8,1415.6 360.0,1412.0 C363.2,1408.4 365.5,1403.7 368.0,1400.0 C370.5,1396.3 372.8,1394.7 375.0,1390.0 C377.2,1385.3 379.2,1379.0 381.0,1372.0 C382.8,1365.0 384.2,1354.9 385.8,1348.0 C387.4,1341.1 389.0,1336.8 390.6,1330.4 C392.2,1324.0 394.0,1315.9 395.4,1309.6 C396.8,1303.3 397.5,1300.0 399.0,1292.6 C400.5,1285.2 403.1,1272.9 404.5,1265.4 C405.9,1257.9 406.4,1254.5 407.7,1247.8 C409.0,1241.1 410.4,1233.3 412.5,1225.3 C414.6,1217.3 416.9,1208.3 420.0,1200.0 C423.1,1191.7 428.8,1181.3 431.0,1175.6 C433.2,1169.9 432.3,1170.3 433.4,1166.0 C434.5,1161.7 436.1,1156.8 437.5,1150.0 C438.9,1143.2 440.6,1134.2 442.0,1125.0 C443.4,1115.8 444.7,1105.0 446.0,1095.0 C447.3,1085.0 448.7,1074.2 450.0,1065.0 C451.3,1055.8 452.5,1048.8 454.0,1040.0 C455.5,1031.2 457.2,1021.2 459.0,1012.0 C460.8,1002.8 462.8,994.0 464.5,985.0 C466.2,976.0 467.8,966.3 469.5,958.0 C471.2,949.7 472.6,941.8 474.5,935.0 C476.4,928.2 478.6,922.0 481.0,917.0 C483.4,912.0 486.1,907.7 489.0,905.0 C491.9,902.3 495.7,899.3 498.5,901.0 C501.3,902.7 504.1,910.2 506.0,915.0 C507.9,919.8 508.8,924.2 510.0,930.0 C511.2,935.8 512.2,942.5 513.0,950.0 C513.8,957.5 514.1,966.7 514.5,975.0 C514.9,983.3 514.3,992.4 515.2,1000.0 C516.2,1007.6 518.4,1014.1 520.0,1020.8 C521.6,1027.5 522.5,1032.2 524.9,1040.0 C527.3,1047.8 531.6,1059.0 534.5,1067.3 C537.4,1075.6 540.6,1082.8 542.5,1089.7 C544.4,1096.7 544.1,1101.5 545.7,1109.0 C547.3,1116.5 549.7,1125.5 552.0,1135.0 C554.3,1144.5 557.6,1157.6 559.7,1166.0 C561.8,1174.4 563.0,1178.9 564.5,1185.3 C566.0,1191.7 567.4,1198.9 568.5,1204.5 C569.6,1210.1 569.8,1212.3 571.0,1219.0 C572.2,1225.7 574.0,1235.8 575.7,1244.6 C577.4,1253.4 579.8,1265.4 581.3,1271.8 C582.8,1278.2 583.3,1277.1 584.5,1283.0 C585.7,1288.9 587.6,1302.2 588.5,1307.0 C589.4,1311.8 589.1,1308.2 590.0,1312.0 C590.9,1315.8 592.0,1323.0 594.0,1330.0 C596.0,1337.0 599.8,1347.0 602.0,1354.0 C604.2,1361.0 603.7,1365.5 607.0,1372.0 C610.3,1378.5 616.8,1386.8 622.0,1393.0 C627.2,1399.2 632.8,1404.8 638.0,1409.0 C643.2,1413.2 647.7,1415.2 653.0,1418.0 C658.3,1420.8 664.5,1424.0 670.0,1426.0 C675.5,1428.0 683.3,1429.3 686.0,1430.0" fill="none" stroke="#000" stroke-width="2.4" stroke-linejoin="round" stroke-dasharray="26 15"/>
<path d="M304.0,1432.0 C306.7,1432.0 315.2,1433.2 320.0,1432.3 C324.8,1431.4 328.9,1428.9 332.9,1426.6 C336.9,1424.3 339.5,1421.1 344.0,1418.6 C348.5,1416.1 356.0,1413.8 360.0,1411.4 C364.0,1409.0 365.3,1407.6 368.0,1404.0 C370.7,1400.4 373.3,1395.0 376.0,1389.7 C378.7,1384.4 381.5,1378.1 384.2,1372.0 C386.9,1365.9 389.8,1359.1 392.2,1353.0 C394.6,1346.9 396.5,1341.5 398.6,1335.3 C400.7,1329.1 403.1,1321.9 405.0,1316.0 C406.9,1310.1 408.4,1305.0 409.8,1300.0 C411.2,1295.0 411.7,1291.8 413.3,1286.0 C414.9,1280.2 417.8,1272.1 419.7,1265.4 C421.6,1258.7 423.1,1252.4 424.6,1246.0 C426.1,1239.6 427.4,1233.7 428.6,1227.0 C429.8,1220.3 430.9,1212.7 431.8,1206.0 C432.7,1199.3 433.2,1193.7 434.0,1187.0 C434.8,1180.3 435.8,1172.2 436.6,1166.0 C437.4,1159.8 438.3,1155.0 439.0,1150.0 C439.7,1145.0 440.2,1142.3 441.0,1136.0 C441.8,1129.7 442.9,1121.3 444.0,1112.0 C445.1,1102.7 446.2,1089.3 447.3,1080.0 C448.4,1070.7 449.4,1064.0 450.5,1056.0 C451.6,1048.0 452.4,1040.0 453.7,1032.0 C455.0,1024.0 456.6,1017.7 458.5,1008.0 C460.4,998.3 463.0,984.2 464.9,974.0 C466.8,963.8 468.1,955.2 469.7,947.0 C471.3,938.8 472.6,930.7 474.5,924.5 C476.4,918.3 478.6,914.1 481.0,910.0 C483.4,905.9 486.5,902.0 489.0,899.6 C491.5,897.2 493.6,895.3 496.0,895.6 C498.4,895.9 501.0,898.0 503.3,901.2 C505.6,904.5 507.8,909.5 509.7,915.0 C511.6,920.5 513.2,926.8 514.5,934.0 C515.8,941.2 516.7,950.0 517.8,958.0 C518.8,966.0 520.0,974.0 521.0,982.0 C522.0,990.0 523.1,997.7 524.0,1006.0 C524.9,1014.3 525.5,1023.7 526.5,1032.0 C527.5,1040.3 528.6,1048.0 529.7,1056.0 C530.8,1064.0 531.9,1070.7 532.9,1080.0 C533.9,1089.3 534.8,1102.7 536.0,1112.0 C537.2,1121.3 539.0,1129.7 540.0,1136.0 C541.0,1142.3 540.8,1143.7 541.7,1150.0 C542.6,1156.3 543.6,1166.0 545.2,1174.0 C546.9,1182.0 549.3,1190.0 551.7,1198.0 C554.1,1206.0 557.3,1214.5 559.7,1222.0 C562.1,1229.5 564.1,1235.8 566.0,1243.0 C567.9,1250.2 569.4,1257.7 571.0,1265.4 C572.6,1273.1 574.2,1281.3 575.7,1289.4 C577.2,1297.5 578.3,1305.2 580.0,1314.0 C581.7,1322.8 583.7,1333.3 586.0,1342.0 C588.3,1350.7 591.0,1358.7 594.0,1366.0 C597.0,1373.3 600.3,1379.3 604.0,1386.0 C607.7,1392.7 612.0,1400.3 616.0,1406.0 C620.0,1411.7 624.0,1416.7 628.0,1420.0 C632.0,1423.3 636.2,1424.7 640.0,1426.0 C643.8,1427.3 649.2,1427.3 651.0,1427.6" fill="none" stroke="#000" stroke-width="2.4" stroke-linejoin="round"/>
<path d="M423.3,1102.5 C424.1,1100.1 426.4,1092.2 428.0,1088.0 C429.6,1083.8 431.3,1080.0 433.0,1077.0 C434.7,1074.0 436.4,1071.7 438.0,1070.0 C439.6,1068.3 441.9,1067.5 442.7,1067.0" fill="none" stroke="#000" stroke-width="2.4" stroke-linejoin="round"/>
<line x1="169" y1="1428.7" x2="196" y2="1430.6" stroke="#000" stroke-width="2.2"/>
<path d="M143.3,1428.3 C146.4,1427.5 171.1,1421.0 177.2,1419.2 C183.3,1417.4 204.6,1412.4 210.8,1409.0 C216.9,1405.6 238.3,1386.8 244.5,1381.5 C250.7,1376.2 272.7,1356.9 279.0,1350.2 C285.3,1343.6 307.5,1315.9 313.8,1308.5 C320.0,1301.1 341.4,1277.2 347.6,1269.0 C353.8,1260.8 375.4,1227.6 381.6,1218.5 C387.8,1209.4 409.7,1178.0 416.0,1169.4 C422.3,1160.8 444.3,1129.1 450.5,1123.8 C456.7,1118.5 478.3,1111.7 484.5,1110.6 C490.7,1109.5 512.4,1109.8 518.6,1111.8 C524.8,1113.8 546.2,1127.4 552.4,1133.0 C558.6,1138.6 580.8,1163.9 587.0,1173.6 C593.2,1183.3 614.8,1229.8 621.0,1240.0 C627.2,1250.2 649.1,1278.5 655.3,1286.0 C661.5,1293.5 682.8,1315.2 689.0,1322.5 C695.2,1329.8 716.8,1360.0 723.0,1366.4 C729.2,1372.8 751.3,1388.2 757.5,1392.4 C763.7,1396.6 788.2,1411.1 791.3,1413.0" fill="none" stroke="#000" stroke-width="2.4" stroke-linejoin="round"/>
<polygon points="143.3,1421.0 150.6,1435.6 136.0,1435.6" fill="#000"/>
<polygon points="177.2,1411.9 184.5,1426.5 169.9,1426.5" fill="#000"/>
<polygon points="210.8,1401.7 218.1,1416.3 203.4,1416.3" fill="#000"/>
<polygon points="244.5,1374.2 251.8,1388.8 237.2,1388.8" fill="#000"/>
<polygon points="279.0,1343.0 286.3,1357.5 271.7,1357.5" fill="#000"/>
<polygon points="313.8,1301.2 321.1,1315.8 306.4,1315.8" fill="#000"/>
<polygon points="347.6,1261.7 354.9,1276.3 340.3,1276.3" fill="#000"/>
<polygon points="381.6,1211.2 388.9,1225.8 374.3,1225.8" fill="#000"/>
<polygon points="416.0,1162.1 423.3,1176.7 408.7,1176.7" fill="#000"/>
<polygon points="450.5,1116.5 457.8,1131.1 443.2,1131.1" fill="#000"/>
<polygon points="484.5,1103.3 491.8,1117.9 477.2,1117.9" fill="#000"/>
<polygon points="518.6,1104.5 525.9,1119.1 511.3,1119.1" fill="#000"/>
<polygon points="552.4,1125.7 559.7,1140.3 545.1,1140.3" fill="#000"/>
<polygon points="587.0,1166.3 594.3,1180.9 579.7,1180.9" fill="#000"/>
<polygon points="621.0,1232.7 628.3,1247.3 613.7,1247.3" fill="#000"/>
<polygon points="655.3,1278.7 662.6,1293.3 648.0,1293.3" fill="#000"/>
<polygon points="689.0,1315.2 696.3,1329.8 681.7,1329.8" fill="#000"/>
<polygon points="723.0,1359.1 730.3,1373.7 715.7,1373.7" fill="#000"/>
<polygon points="757.5,1385.1 764.8,1399.7 750.2,1399.7" fill="#000"/>
<polygon points="791.3,1405.7 798.6,1420.3 784.0,1420.3" fill="#000"/>
</svg>
</body></html>
